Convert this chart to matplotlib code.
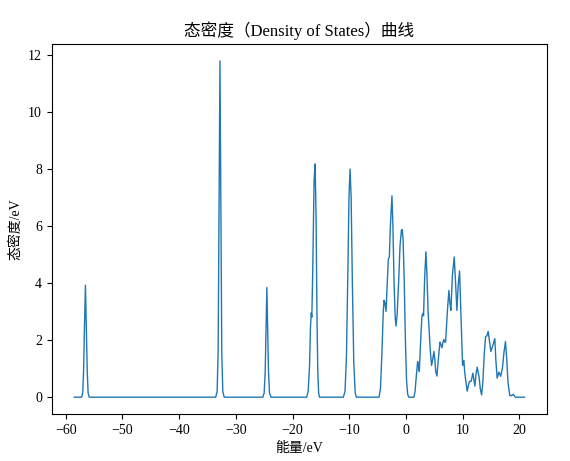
import matplotlib
matplotlib.use("Agg")
import matplotlib.pyplot as plt

plt.rcParams['font.family'] = ['Liberation Serif', 'Noto Sans CJK SC', 'DejaVu Sans']
plt.rcParams['axes.unicode_minus'] = True

title = "态密度（Density of States）曲线"
xlabel = "能量/eV"
ylabel = "态密度/eV"
xticks = [-60, -50, -40, -30, -20, -10, 0, 10, 20]
yticks = [0, 2, 4, 6, 8, 10, 12]

# Energy (eV) and DOS values
energy = [
    -58.5, -57.2, -57.0, -56.85, -56.7, -56.52, -56.35, -56.2, -56.05, -55.85,
    -33.55, -33.3, -33.12, -32.97, -32.8, -32.63, -32.48, -32.3, -32.05,
    -25.25, -25.0, -24.82, -24.68, -24.53, -24.38, -24.24, -24.06, -23.8,
    -17.5, -17.25, -17.0, -16.85, -16.7, -16.6, -16.45, -16.2, -16.02, -15.85,
    -15.7, -15.55, -15.4, -15.25,
    -11.05, -10.75, -10.5, -10.25, -10.05, -9.86, -9.67, -9.45, -9.2, -8.95, -8.75,
    -4.75, -4.5, -4.25, -4.0, -3.87, -3.7, -3.52, -3.3, -3.11, -2.93, -2.75, -2.47,
    -2.3, -2.1, -1.9, -1.76, -1.55, -1.3, -1.05, -0.8, -0.65, -0.5, -0.3, -0.1,
    0.1, 0.3, 0.5, 1.4, 1.6, 1.85, 2.06, 2.2, 2.35, 2.55, 2.8, 2.94, 3.1, 3.3,
    3.52, 3.7, 3.9, 4.11, 4.3, 4.52, 4.7, 4.93, 5.1, 5.25, 5.46, 5.7, 5.99,
    6.15, 6.34, 6.5, 6.69, 6.85, 6.99, 7.3, 7.57, 7.75, 7.92, 8.2, 8.51, 8.75,
    8.98, 9.2, 9.45, 9.7, 9.98, 10.1, 10.21, 10.35, 10.5, 10.8, 11.0, 11.2,
    11.5, 11.8, 12.15, 12.35, 12.56, 12.9, 13.1, 13.33, 13.55, 13.8, 14.03,
    14.3, 14.5, 14.7, 14.97, 15.3, 15.67, 15.85, 16.08, 16.4, 16.7, 17.0, 17.3,
    17.55, 17.75, 18.0, 18.31, 18.6, 18.9, 19.3, 20.9,
]
dos = [
    0.0, 0.0, 0.15, 0.9, 2.4, 3.92, 2.4, 0.9, 0.15, 0.0,
    0.0, 0.2, 1.6, 6.5, 11.78, 6.5, 1.6, 0.2, 0.0,
    0.0, 0.15, 0.9, 2.4, 3.84, 2.4, 0.9, 0.15, 0.0,
    0.0, 0.2, 1.1, 2.4, 2.95, 2.8, 4.3, 7.6, 8.17, 6.3,
    3.0, 0.9, 0.15, 0.0,
    0.0, 0.2, 1.4, 4.3, 7.0, 7.99, 7.0, 4.0, 1.2, 0.15, 0.0,
    0.0, 0.3, 1.5, 3.0, 3.39, 3.3, 3.0, 4.0, 4.83, 4.91, 6.0, 7.05,
    6.0, 4.0, 2.8, 2.49, 2.9, 4.0, 5.3, 5.85, 5.87, 5.5, 4.0, 2.0,
    0.6, 0.1, 0.0, 0.0, 0.2, 0.8, 1.25, 1.1, 0.9, 1.8, 2.8, 2.93, 2.85, 4.2,
    5.09, 4.3, 3.0, 2.28, 1.6, 1.11, 1.3, 1.6, 1.3, 0.9, 0.74, 1.3, 1.93,
    1.85, 1.73, 1.9, 2.02, 1.93, 1.93, 3.0, 3.74, 3.3, 3.04, 4.3, 4.91, 4.0,
    3.04, 3.9, 4.42, 2.8, 1.11, 1.2, 1.29, 0.9, 0.64, 0.21, 0.4, 0.55,
    0.56, 0.84, 0.39, 0.8, 1.05, 0.7, 0.3, 0.08, 0.5, 1.5, 2.11,
    2.16, 2.3, 2.0, 1.6, 1.8, 2.05, 1.3, 0.67, 0.88, 0.73, 1.0, 1.6,
    1.95, 1.4, 0.5, 0.06, 0.05, 0.1, 0.0, 0.0,
]

fig = plt.figure(figsize=(5.70, 4.61), dpi=100)
ax = fig.add_axes([51.7 / 570, 47 / 461, 495.3 / 570, 370 / 461])
ax.plot(energy, dos, color='#1f77b4', linewidth=1.0)
ax.set_xticks(xticks)
ax.set_yticks(yticks)
ax.set_title(title, fontsize=12)
ax.set_xlabel(xlabel, fontsize=10)
ax.set_ylabel(ylabel, fontsize=10)
fig.savefig("out.png", dpi=100)
